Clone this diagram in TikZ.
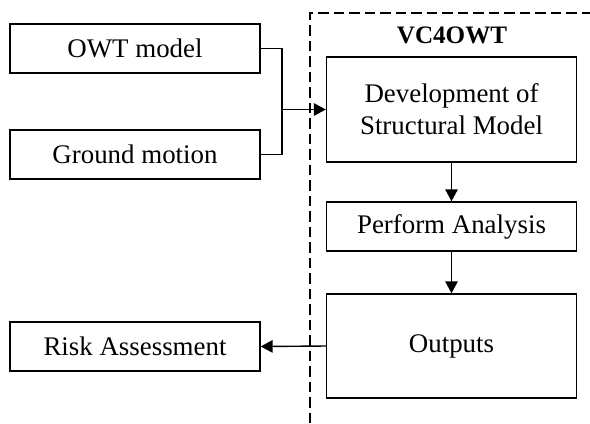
\documentclass[tikz,border=0pt]{standalone}
\usepackage{fontspec}
\setmainfont{Liberation Serif}
\usetikzlibrary{arrows.meta}

\begin{document}
\begin{tikzpicture}[x=0.02cm, y=-0.02cm,
        font=\fontsize{15.3}{18.2}\selectfont,
        box/.style={draw, line width=0.8pt, minimum width=5cm, minimum height=0.98cm, inner sep=0pt, align=center},
        arr/.style={line width=0.8pt, -{Triangle[length=0.24cm, width=0.25cm]}},
        link/.style={line width=0.8pt}]
    \useasboundingbox (0,0) rectangle (590,423);

    % inputs
    \node[box] (owt) at (135,48.5) {OWT model};
    \node[box] (ground) at (135,154.5) {Ground motion};
    \node[box] (risk) at (135,346.5) {Risk Assessment};

    % VC4OWT frame
    \draw[line width=0.7pt, dash pattern=on 0.21cm off 0.1cm] (310,423) -- (310,13) -- (590,13);
    \node[font=\fontsize{14.3}{16}\selectfont\bfseries] (title) at (452,35) {VC4OWT};

    \node[box, minimum height=2.1cm] (dev) at (451.5,109.5) {Development of\\Structural Model};
    \node[box] (perform) at (451.5,226.5) {Perform Analysis};
    \node[box, minimum height=2.08cm] (outputs) at (451.5,346) {Outputs};

    % connectors
    \coordinate (join) at (282,109.5);
    \draw[link] (owt.east) -| (join);
    \draw[link] (ground.east) -| (join);
    \draw[arr] (join) -- (dev.west);
    \draw[arr] (dev.south) -- (perform.north);
    \draw[arr] (perform.south) -- (outputs.north);
    \draw[arr] (outputs.west) -- (risk.east);
\end{tikzpicture}
\end{document}
